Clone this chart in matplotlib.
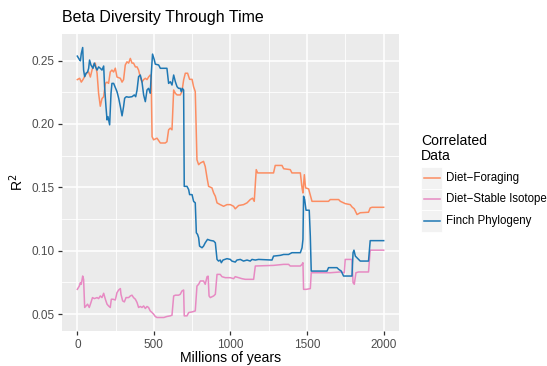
import matplotlib

matplotlib.use("Agg")
import matplotlib.pyplot as plt
from matplotlib.lines import Line2D
from matplotlib.patches import Rectangle

plt.rcParams["font.family"] = ["Liberation Sans", "DejaVu Sans"]

# values (millions of years, R^2)
foraging_x = [0, 15, 26, 37, 59, 74, 85, 96, 106, 117, 129, 139, 150, 161, 172, 183, 194, 204,
              215, 226, 237, 248, 259, 281, 292, 302, 313, 324, 335, 346, 357, 367, 379, 390,
              400, 411, 422, 433, 444, 455, 465, 476, 482, 488, 498, 520, 542, 574, 585, 596,
              607, 618, 629, 640, 651, 672, 683, 694, 705, 720, 733, 749, 759, 770, 781, 792,
              803, 824, 835, 847, 857, 879, 890, 901, 912, 933, 955, 977, 999, 1020, 1031,
              1053, 1085, 1108, 1129, 1144, 1155, 1168, 1177, 1281, 1292, 1336, 1347, 1390,
              1401, 1456, 1467, 1473, 1482, 1490, 1510, 1532, 1640, 1651, 1706, 1717, 1749,
              1782, 1793, 1808, 1826, 1847, 1901, 1912, 1924, 2000]
foraging_r2 = [0.235, 0.236, 0.233, 0.235, 0.240, 0.241, 0.237, 0.2425, 0.2465, 0.248, 0.240,
               0.224, 0.214, 0.220, 0.2215, 0.232, 0.233, 0.232, 0.241, 0.2425, 0.241, 0.244,
               0.237, 0.236, 0.233, 0.235, 0.2465, 0.249, 0.248, 0.2517, 0.248, 0.248, 0.245,
               0.245, 0.2425, 0.237, 0.233, 0.235, 0.236, 0.235, 0.237, 0.2386, 0.237, 0.190,
               0.1875, 0.1888, 0.185, 0.185, 0.186, 0.1954, 0.1967, 0.1954, 0.2268, 0.2242,
               0.2229, 0.2229, 0.2255, 0.2347, 0.240, 0.240, 0.2352, 0.2352, 0.2294, 0.2255,
               0.1718, 0.1679, 0.1692, 0.1705, 0.1665, 0.1574, 0.1508, 0.1496, 0.1456, 0.143,
               0.1378, 0.1364, 0.1351, 0.1364, 0.1364, 0.1351, 0.1331, 0.1357, 0.1364, 0.1378,
               0.1404, 0.1415, 0.139, 0.164, 0.1614, 0.1614, 0.1673, 0.1673, 0.1647, 0.164,
               0.1614, 0.1614, 0.1496, 0.1456, 0.160, 0.1496, 0.1488, 0.139, 0.139, 0.1404,
               0.1404, 0.139, 0.1372, 0.1364, 0.1346, 0.1331, 0.1286, 0.130, 0.1304, 0.1338,
               0.1343, 0.1343]

isotope_x = [0, 13, 20, 26, 35, 41, 48, 57, 67, 78, 89, 99, 111, 129, 139, 150, 161, 172, 183,
             194, 204, 215, 222, 233, 248, 259, 270, 281, 285, 296, 307, 318, 335, 346, 357,
             367, 379, 390, 400, 411, 422, 433, 444, 455, 465, 476, 488, 498, 509, 520, 565,
             585, 607, 618, 629, 640, 661, 672, 683, 694, 698, 716, 727, 749, 770, 781, 792,
             803, 824, 835, 847, 854, 860, 868, 890, 901, 912, 933, 944, 966, 999, 1020, 1031,
             1053, 1075, 1097, 1151, 1162, 1281, 1347, 1379, 1390, 1456, 1467, 1473, 1477,
             1495, 1521, 1527, 1651, 1717, 1743, 1749, 1793, 1800, 1808, 1819, 1836, 1901,
             1912, 2000]
isotope_r2 = [0.0696, 0.0722, 0.0749, 0.0736, 0.0801, 0.0775, 0.0553, 0.0565, 0.0579, 0.0553,
              0.0592, 0.0631, 0.0623, 0.0631, 0.0623, 0.0644, 0.0631, 0.0665, 0.0618, 0.0579,
              0.0565, 0.0553, 0.0618, 0.0618, 0.0612, 0.067, 0.0691, 0.0702, 0.0657, 0.0605,
              0.0597, 0.0631, 0.0631, 0.0644, 0.065, 0.0631, 0.0618, 0.0592, 0.0553, 0.0561,
              0.0553, 0.0565, 0.0545, 0.0561, 0.0553, 0.0526, 0.0513, 0.050, 0.0482, 0.0474,
              0.0474, 0.0482, 0.0487, 0.0492, 0.0644, 0.065, 0.065, 0.0657, 0.0683, 0.0691,
              0.0487, 0.0487, 0.0513, 0.0518, 0.0526, 0.0722, 0.0736, 0.0762, 0.0762, 0.0736,
              0.0796, 0.080, 0.0644, 0.0631, 0.0644, 0.0657, 0.0814, 0.0814, 0.0796, 0.0788,
              0.0788, 0.078, 0.0796, 0.0788, 0.078, 0.0775, 0.0775, 0.088, 0.0885, 0.0893,
              0.0893, 0.088, 0.088, 0.0893, 0.0906, 0.0696, 0.0696, 0.0702, 0.0827, 0.0827,
              0.0833, 0.0827, 0.0932, 0.0932, 0.0749, 0.0736, 0.0827, 0.0833, 0.0833, 0.1005,
              0.1005]

finch_x = [0, 13, 20, 26, 35, 41, 48, 57, 67, 74, 80, 89, 102, 111, 119, 129, 139, 150, 161,
           172, 178, 187, 194, 200, 211, 220, 226, 237, 259, 270, 281, 292, 302, 309, 320, 335,
           357, 372, 381, 390, 400, 411, 422, 433, 444, 455, 465, 476, 483, 491, 503, 509, 531,
           542, 585, 596, 607, 618, 629, 640, 651, 661, 672, 679, 685, 694, 698, 716, 727, 733,
           749, 759, 770, 777, 785, 792, 798, 814, 824, 835, 850, 868, 890, 901, 912, 922, 933,
           940, 951, 977, 999, 1009, 1031, 1042, 1064, 1085, 1108, 1129, 1140, 1162, 1183,
           1271, 1281, 1325, 1347, 1379, 1401, 1456, 1467, 1473, 1477, 1484, 1493, 1514, 1521,
           1527, 1630, 1640, 1695, 1706, 1723, 1738, 1793, 1800, 1806, 1815, 1826, 1847, 1901,
           1912, 2000]
finch_r2 = [0.2535, 0.2509, 0.2498, 0.2556, 0.2603, 0.2425, 0.2373, 0.240, 0.241, 0.2439,
            0.2504, 0.2465, 0.2439, 0.248, 0.245, 0.2425, 0.245, 0.2439, 0.2425, 0.2457, 0.2294,
            0.2137, 0.2032, 0.2058, 0.1993, 0.2242, 0.232, 0.232, 0.2255, 0.2203, 0.2137,
            0.2064, 0.2137, 0.2203, 0.2215, 0.2211, 0.2215, 0.2229, 0.2215, 0.2268, 0.2373,
            0.2386, 0.2333, 0.2229, 0.2176, 0.2268, 0.2281, 0.2242, 0.240, 0.2551, 0.2504,
            0.2472, 0.2465, 0.2439, 0.2439, 0.232, 0.2333, 0.2307, 0.2386, 0.2333, 0.2294,
            0.2281, 0.2281, 0.2255, 0.2281, 0.2268, 0.1508, 0.1508, 0.1482, 0.1443, 0.1443,
            0.139, 0.1378, 0.1142, 0.1129, 0.1103, 0.1037, 0.1024, 0.1037, 0.1063, 0.109,
            0.1082, 0.1077, 0.1063, 0.0932, 0.0919, 0.0927, 0.0906, 0.0927, 0.0938, 0.0932,
            0.0919, 0.0911, 0.0927, 0.0932, 0.0919, 0.0927, 0.0919, 0.0932, 0.0927, 0.0932,
            0.0927, 0.0958, 0.0964, 0.0971, 0.0971, 0.0985, 0.0985, 0.1024, 0.109, 0.143,
            0.1404, 0.132, 0.132, 0.1116, 0.084, 0.084, 0.0867, 0.0867, 0.0854, 0.084, 0.0801,
            0.0801, 0.0985, 0.1005, 0.0958, 0.0945, 0.0919, 0.0919, 0.108, 0.108]

series_names = ["Diet\u2212Foraging", "Diet\u2212Stable Isotope", "Finch Phylogeny"]
series_colors = ["#FC8D62", "#E78AC3", "#1F78B4"]
series = [(foraging_x, foraging_r2), (isotope_x, isotope_r2), (finch_x, finch_r2)]

x_ticks = [0, 500, 1000, 1500, 2000]
y_ticks = [0.05, 0.10, 0.15, 0.20, 0.25]
y_labels = ["0.05", "0.10", "0.15", "0.20", "0.25"]

W, H = 547, 366
fig = plt.figure(figsize=(W / 100, H / 100), dpi=100, facecolor="white")
ax = fig.add_axes([62 / W, 1 - 331 / H, 337 / W, 297 / H])
ax.set_facecolor("#EBEBEB")

for (xs, ys), color in zip(series, series_colors):
    ax.plot(xs, ys, color=color, linewidth=1.1, solid_joinstyle="round", zorder=3)

# ggplot-like 5% expansion
all_y = foraging_r2 + isotope_r2 + finch_r2
lo, hi = min(all_y), max(all_y)
pad = 0.05 * (hi - lo)
ax.set_ylim(lo - pad, hi + pad)
ax.set_xlim(-100, 2100)

ax.set_xticks(x_ticks)
ax.set_xticklabels([str(t) for t in x_ticks])
ax.set_yticks(y_ticks)
ax.set_yticklabels(y_labels)
ax.set_xticks([250, 750, 1250, 1750], minor=True)
ax.set_yticks([0.075, 0.125, 0.175, 0.225], minor=True)
ax.grid(which="major", color="white", linewidth=1.15, zorder=1)
ax.grid(which="minor", color="white", linewidth=0.6, zorder=1)
ax.set_axisbelow(True)
ax.tick_params(which="major", length=3, width=0.9, color="#333333",
               labelcolor="#4D4D4D", labelsize=8.5, pad=2.5)
ax.tick_params(which="minor", length=0)
for spine in ax.spines.values():
    spine.set_visible(False)

ax.set_ylabel("R$^2$", fontsize=10.1, color="black", labelpad=4)
fig.text(230.5 / W, 1 - 362 / H, "Millions of years", fontsize=10.1,
         ha="center", va="baseline")
fig.text(62 / W, 1 - 22 / H, "Beta Diversity Through Time", fontsize=11.5,
         ha="left", va="baseline")

# legend drawn ggplot style
fig.text(421 / W, 1 - 145 / H, "Correlated", fontsize=10.1, ha="left", va="baseline")
fig.text(421 / W, 1 - 160 / H, "Data", fontsize=10.1, ha="left", va="baseline")
for i, (name, color) in enumerate(zip(series_names, series_colors)):
    top = 167 + i * 21.5
    fig.add_artist(Rectangle((421 / W, 1 - (top + 21.5) / H), 21 / W, 21.5 / H,
                             transform=fig.transFigure, facecolor="#F2F2F2",
                             edgecolor="white", linewidth=0.6))
    yc = 1 - (top + 10.75) / H
    fig.add_artist(Line2D([423.5 / W, 440 / W], [yc, yc], transform=fig.transFigure,
                          color=color, linewidth=1.1))
    fig.text(446 / W, yc, name, fontsize=8.3, ha="left", va="center")

fig.savefig("out.png", dpi=100, facecolor=fig.get_facecolor())
plt.close(fig)
